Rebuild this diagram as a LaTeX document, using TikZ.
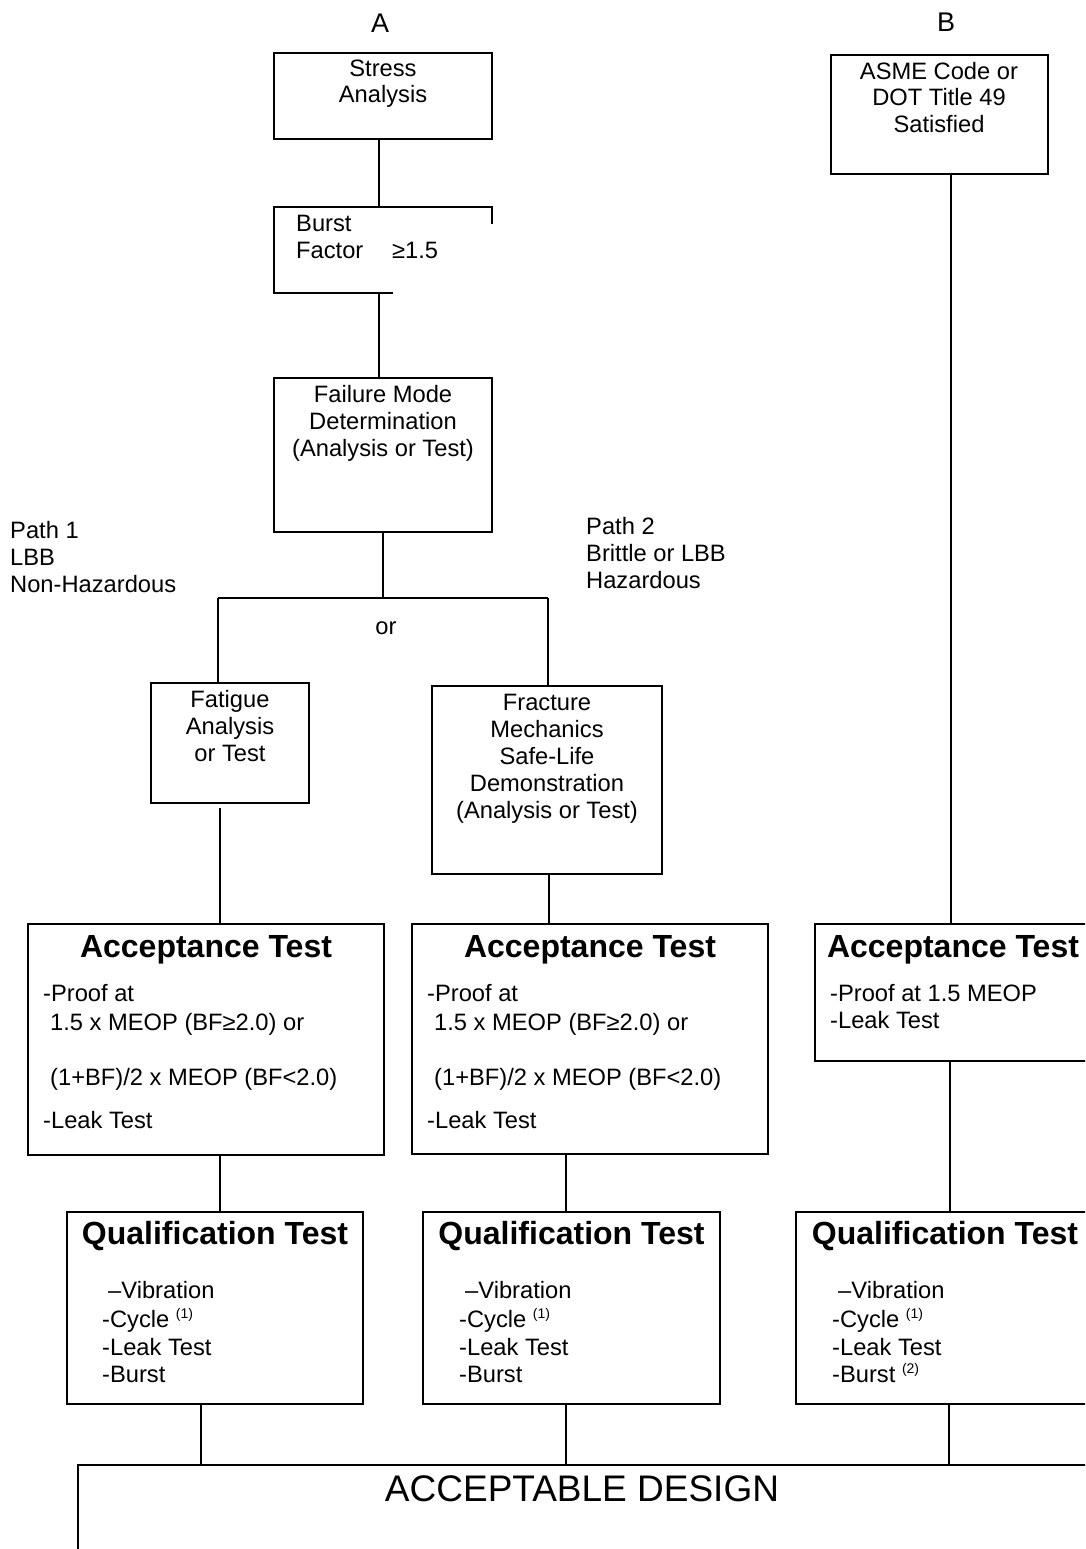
\documentclass[tikz,border=0pt]{standalone}
\usepackage{fontspec}
\setmainfont{Liberation Sans}
\usetikzlibrary{calc}
\newcommand\bodyfont{\fontsize{23.7pt}{27pt}\selectfont}
\newcommand\ttlfont{\fontsize{32pt}{36pt}\selectfont\bfseries}
\newcommand\colfont{\fontsize{27pt}{30pt}\selectfont}
\newcommand\bigfont{\fontsize{37pt}{40pt}\selectfont}
\newcommand\supnum[1]{\raisebox{9pt}{\fontsize{14pt}{14pt}\selectfont(#1)}}
\tikzset{
  boxline/.style={line width=1.8pt, line join=miter},
  box/.style={draw, boxline, inner sep=0pt, outer sep=0pt, anchor=north west},
  conn/.style={line width=1.5pt},
  txt/.style={inner sep=0pt, font=\bodyfont, anchor=base},
  txl/.style={txt, anchor=base west},
  ttl/.style={inner sep=0pt, font=\ttlfont, anchor=base},
}
\begin{document}
\begin{tikzpicture}[x=1pt,y=-1pt]
\useasboundingbox (0,0) rectangle (1085,1549);
\fill[white] (0,0) rectangle (1085,1549);
\clip (0,0) rectangle (1085,1549);

% column labels
\node[inner sep=0pt, font=\colfont, anchor=base] (labA) at (380,33) {A};
\node[inner sep=0pt, font=\colfont, anchor=base] (labB) at (946,32) {B};

% boxes
\node[box, minimum width=218pt, minimum height=86pt] (stress) at (274,53) {};
\node[box, draw=none, minimum width=218pt, minimum height=86pt] (burst) at (274,207) {};
\node[box, minimum width=218pt, minimum height=154pt] (failure) at (274,378) {};
\node[box, minimum width=158pt, minimum height=120pt] (fatigue) at (151,683) {};
\node[box, minimum width=230pt, minimum height=188pt] (fracture) at (432,686) {};
\node[box, minimum width=217pt, minimum height=119pt] (asme) at (831,55) {};
\node[box, minimum width=356pt, minimum height=231pt] (acc1) at (28,924) {};
\node[box, minimum width=356pt, minimum height=230pt] (acc2) at (412,924) {};
\node[box, minimum width=276pt, minimum height=137pt] (acc3) at (815,924) {};
\node[box, minimum width=296pt, minimum height=192pt] (qual1) at (67,1212) {};
\node[box, minimum width=297pt, minimum height=192pt] (qual2) at (423,1212) {};
\node[box, minimum width=298pt, minimum height=192pt] (qual3) at (796,1212) {};
\node[box, minimum width=1040pt, minimum height=200pt] (design) at (78,1465) {};

% partial border of the burst box
\draw[boxline] ($(burst.south west)+(119,0)$) -- (burst.south west) -- (burst.north west) -- (burst.north east) -- ($(burst.north east)+(0,17)$);

% texts
\node[txt] (stressT1) at (383,77) {Stress};
\node[txt] (stressT2) at (383,103) {Analysis};

\node[txl] (burstT1) at (296,231) {Burst};
\node[txl] (burstT2) at (296,258) {Factor};
\node[txl] (burstT3) at (392,258) {≥1.5};

\node[txt] (failT1) at (383,402) {Failure Mode};
\node[txt] (failT2) at (383,429) {Determination};
\node[txt] (failT3) at (383,456) {(Analysis or Test)};

\node[txl] (p1a) at (10,538) {Path 1};
\node[txl] (p1b) at (10,565) {LBB};
\node[txl] (p1c) at (10,592) {Non-Hazardous};
\node[txl] (p2a) at (586,534) {Path 2};
\node[txl] (p2b) at (586,561) {Brittle or LBB};
\node[txl] (p2c) at (586,588) {Hazardous};
\node[txt] (orT) at (386,634) {or};

\node[txt] (fatT1) at (230,707) {Fatigue};
\node[txt] (fatT2) at (230,734) {Analysis};
\node[txt] (fatT3) at (230,761) {or Test};

\node[txt] (frT1) at (547,710) {Fracture};
\node[txt] (frT2) at (547,737) {Mechanics};
\node[txt] (frT3) at (547,764) {Safe-Life};
\node[txt] (frT4) at (547,791) {Demonstration};
\node[txt] (frT5) at (547,818) {(Analysis or Test)};

\node[txt] (asT1) at (939,80) {ASME Code or};
\node[txt] (asT2) at (939,106) {DOT Title 49};
\node[txt] (asT3) at (939,133) {Satisfied};

% acceptance tests
\node[ttl] (acc1T) at (206,957) {Acceptance Test};
\node[txl] (acc1a) at (43,1001) {-Proof at};
\node[txl] (acc1b) at (50,1030) {1.5 x MEOP (BF≥2.0) or};
\node[txl] (acc1c) at (50,1085) {(1+BF)/2 x MEOP (BF<2.0)};
\node[txl] (acc1d) at (43,1128) {-Leak Test};

\node[ttl] (acc2T) at (590,957) {Acceptance Test};
\node[txl] (acc2a) at (427,1001) {-Proof at};
\node[txl] (acc2b) at (434,1030) {1.5 x MEOP (BF≥2.0) or};
\node[txl] (acc2c) at (434,1085) {(1+BF)/2 x MEOP (BF<2.0)};
\node[txl] (acc2d) at (427,1128) {-Leak Test};

\node[ttl] (acc3T) at (953,957) {Acceptance Test};
\node[txl] (acc3a) at (830,1001) {-Proof at 1.5 MEOP};
\node[txl] (acc3b) at (830,1028) {-Leak Test};

% qualification tests
\node[ttl] (q1T) at (215,1244) {Qualification Test};
\node[txl] (q1a) at (108,1298) {–Vibration};
\node[txl] (q1b) at (102,1327) {-Cycle \supnum{1}};
\node[txl] (q1c) at (102,1355) {-Leak Test};
\node[txl] (q1d) at (102,1382) {-Burst};

\node[ttl] (q2T) at (571.5,1244) {Qualification Test};
\node[txl] (q2a) at (465,1298) {–Vibration};
\node[txl] (q2b) at (459,1327) {-Cycle \supnum{1}};
\node[txl] (q2c) at (459,1355) {-Leak Test};
\node[txl] (q2d) at (459,1382) {-Burst};

\node[ttl] (q3T) at (945,1244) {Qualification Test};
\node[txl] (q3a) at (838,1298) {–Vibration};
\node[txl] (q3b) at (832,1327) {-Cycle \supnum{1}};
\node[txl] (q3c) at (832,1355) {-Leak Test};
\node[txl] (q3d) at (832,1382) {-Burst \supnum{2}};

\node[inner sep=0pt, font=\bigfont, anchor=base] (designT) at (582,1501) {ACCEPTABLE DESIGN};

% connector columns
\coordinate (x379) at (379,0);
\coordinate (jL) at (218,598);
\coordinate (jM) at (383,598);
\coordinate (jR) at (548,598);
\coordinate (fatOut) at (220,808);
\coordinate (x549) at (549,0);
\coordinate (x220) at (220,0);
\coordinate (x566) at (566,0);
\coordinate (x201) at (201,0);
\coordinate (x949) at (949,0);
\coordinate (x951) at (951,0);
\coordinate (x950) at (950,0);

% connectors
\draw[conn] (stress.south -| x379) -- (burst.north -| x379);
\draw[conn] (burst.south -| x379) -- (failure.north -| x379);
\draw[conn] (failure.south) -- (jM);
\draw[conn] (jL) -- (jR);
\draw[conn] (jL) -- (fatigue.north -| jL);
\draw[conn] (jR) -- (fracture.north -| jR);
\draw[conn] (fatOut) -- (acc1.north -| fatOut);
\draw[conn] (fracture.south -| x549) -- (acc2.north -| x549);
\draw[conn] (acc1.south -| x220) -- (qual1.north -| x220);
\draw[conn] (acc2.south -| x566) -- (qual2.north -| x566);
\draw[conn] (qual1.south -| x201) -- (design.north -| x201);
\draw[conn] (qual2.south -| x566) -- (design.north -| x566);
\draw[conn] (qual3.south -| x949) -- (design.north -| x949);
\draw[conn] (asme.south -| x951) -- (acc3.north -| x951);
\draw[conn] (acc3.south -| x950) -- (qual3.north -| x950);
\end{tikzpicture}
\end{document}
